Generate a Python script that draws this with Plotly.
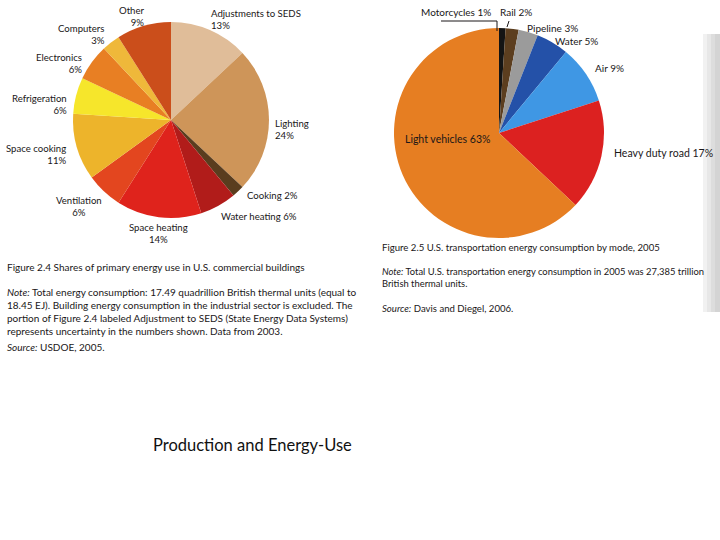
import plotly.graph_objects as go

W, H = 720, 540

# Figure 2.4 - commercial buildings (clockwise from 12 o'clock)
bld_labels = ["Adjustments to SEDS", "Lighting", "Cooking", "Water heating", "Space heating",
              "Ventilation", "Space cooking", "Refrigeration", "Electronics", "Computers", "Other"]
bld_values = [13, 24, 2, 6, 14, 6, 11, 6, 6, 3, 9]
bld_colors = ["#e0bd99", "#ce9559", "#5a3d1e", "#b11c1a", "#df231c", "#e3461f",
              "#edb42b", "#f6e62b", "#e87f23", "#efb83a", "#cb4e1b"]

# Figure 2.5 - transportation by mode (clockwise from 12 o'clock)
trn_labels = ["Motorcycles", "Rail", "Pipeline", "Water", "Air", "Heavy duty road", "Light vehicles"]
trn_values = [1, 2, 3, 5, 9, 17, 63]
trn_colors = ["#141414", "#5c3e1f", "#9b9b9b", "#2451a8", "#3f97e4", "#dc2120", "#e67e22"]

FONT = "Lato, 'Open Sans', Arial, sans-serif"
INK = "#1a1718"


def px(x):
    return x / W


def py(y):
    return 1 - y / H


fig = go.Figure()
fig.add_trace(go.Pie(
    labels=bld_labels, values=bld_values, sort=False, direction="clockwise", rotation=0,
    marker=dict(colors=bld_colors, line=dict(width=0)), textinfo="none", hoverinfo="label+percent",
    domain=dict(x=[px(73), px(269)], y=[py(218), py(22)]), showlegend=False,
))
fig.add_trace(go.Pie(
    labels=trn_labels, values=trn_values, sort=False, direction="clockwise", rotation=0,
    marker=dict(colors=trn_colors, line=dict(width=0)), textinfo="none", hoverinfo="label+percent",
    domain=dict(x=[px(394), px(604)], y=[py(238), py(28)]), showlegend=False,
))


def label(x, y, text, anchor="left", size=9.6):
    shift = {"left": -2, "right": 2, "center": 0}[anchor]
    fig.add_annotation(x=px(x), y=py(y), xref="paper", yref="paper", text=text, showarrow=False,
                       xanchor=anchor, yanchor="middle", align=anchor, xshift=shift,
                       font=dict(family=FONT, size=size, color=INK))


# left pie labels
label(211, 19, f"{bld_labels[0]}<br>{bld_values[0]}%")
label(275, 129, f"{bld_labels[1]}<br>{bld_values[1]}%")
label(247, 196, f"{bld_labels[2]} {bld_values[2]}%")
label(221, 216, f"{bld_labels[3]} {bld_values[3]}%")
label(158, 233, f"{bld_labels[4]}<br>{bld_values[4]}%", "center")
label(79, 206, f"{bld_labels[5]}<br>{bld_values[5]}%", "center")
label(66, 155, f"{bld_labels[6]}<br>{bld_values[6]}%", "right")
label(67, 104, f"{bld_labels[7]}<br>{bld_values[7]}%", "right")
label(82, 64, f"{bld_labels[8]}<br>{bld_values[8]}%", "right")
label(105, 34, f"{bld_labels[9]}<br>{bld_values[9]}%", "right")
label(145, 16, f"{bld_labels[10]}<br>{bld_values[10]}%", "right")

# right pie labels
label(421, 12, f"{trn_labels[0]} {trn_values[0]}%", size=10)
label(500, 12, f"{trn_labels[1]} {trn_values[1]}%", size=10)
label(527, 28, f"{trn_labels[2]} {trn_values[2]}%", size=10)
label(555, 41, f"{trn_labels[3]} {trn_values[3]}%", size=10)
label(595, 68, f"{trn_labels[4]} {trn_values[4]}%", size=10)
label(614, 153, f"{trn_labels[5]} {trn_values[5]}%", size=10.5)
label(405, 139, f"{trn_labels[6]} {trn_values[6]}%", size=10.5)

# leader lines
fig.add_shape(type="path", xref="paper", yref="paper",
              path=f"M {px(441)} {py(21)} L {px(497)} {py(21)} L {px(497)} {py(31)}",
              line=dict(color=INK, width=1))
fig.add_shape(type="line", xref="paper", yref="paper", x0=px(507), y0=py(27), x1=px(509), y1=py(21),
              line=dict(color=INK, width=1))

# captions
label(7, 267, "Figure 2.4 Shares of primary energy use in U.S. commercial buildings", size=10)
label(7, 311, "<i>Note:</i> Total energy consumption: 17.49 quadrillion British thermal units (equal to<br>"
              "18.45 EJ). Building energy consumption in the industrial sector is excluded. The<br>"
              "portion of Figure 2.4 labeled Adjustment to SEDS (State Energy Data Systems)<br>"
              "represents uncertainty in the numbers shown. Data from 2003.", size=10)
label(7, 347, "<i>Source:</i> USDOE, 2005.", size=10)

label(382, 247, "Figure 2.5 U.S. transportation energy consumption by mode, 2005", size=9.6)
label(382, 277, "<i>Note:</i> Total U.S. transportation energy consumption in 2005 was 27,385 trillion<br>"
                "British thermal units.", size=9.4)
label(382, 308, "<i>Source:</i> Davis and Diegel, 2006.", size=9.6)

# slide title
fig.add_annotation(x=px(253), y=py(445), xref="paper", yref="paper", text="Production and Energy-Use",
                   showarrow=False, xanchor="center", yanchor="middle",
                   font=dict(family="Lato, 'Open Sans', sans-serif", size=16.5, color="#111111"))

# grey shadow panel at right edge
for x0, c in [(703, "#f1f1f1"), (707, "#e7e7e7"), (711, "#dddddd"), (715, "#d4d4d4")]:
    fig.add_shape(type="rect", xref="paper", yref="paper", x0=px(x0), x1=1, y0=py(312), y1=py(34),
                  fillcolor=c, line=dict(width=0), layer="below")

fig.update_layout(
    width=W, height=H,
    margin=dict(l=0, r=0, t=0, b=0),
    paper_bgcolor="#ffffff", plot_bgcolor="#ffffff",
    font=dict(family=FONT, color=INK),
)
fig.write_html("out.html", config={"displayModeBar": False},
               post_script="document.body.style.margin='0';")
